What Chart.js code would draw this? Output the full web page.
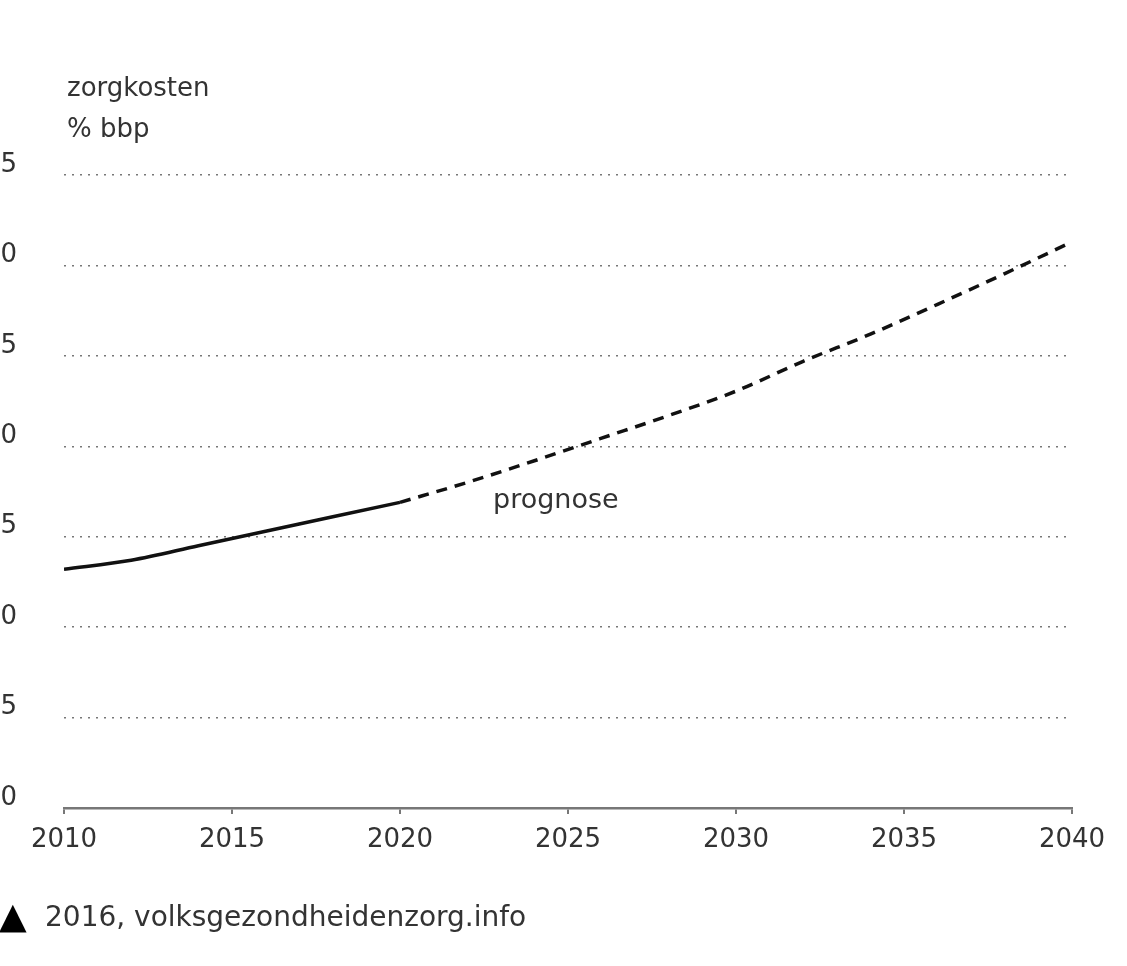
<!DOCTYPE html>
<html>
<head>
<meta charset="utf-8">
<script src="https://cdn.jsdelivr.net/npm/chart.js@4.4.1/dist/chart.umd.min.js"></script>
<style>
  body { margin: 0; background: #fff; overflow: hidden; }
  #wrap { position: relative; width: 1127px; height: 966px; overflow: hidden; font-family: 'DejaVu Sans', sans-serif; color: #333; }
  #chartBox { position: absolute; left: -20px; top: 0; width: 1147px; height: 966px; }
  .txt { position: absolute; font-size: 26px; white-space: nowrap; line-height: 30px; }
</style>
</head>
<body>
<div id="wrap">
  <div id="chartBox"><canvas id="grafico"></canvas></div>
  <div class="txt" style="left:67px; top:72px;">zorgkosten</div>
  <div class="txt" style="left:67px; top:113px;">% bbp</div>
  <div class="txt" style="left:493px; top:484px; font-size:27px;">prognose</div>
  <div class="txt" style="left:-1px; top:898px; font-size:36px; color:#000; line-height:36px;">▲</div>
  <div class="txt" style="left:45px; top:902px; font-size:28px;">2016, volksgezondheidenzorg.info</div>
</div>
<script>
// zorgkosten als % bbp, gemeten en prognose
const jarenGemeten = [2010, 2012, 2014, 2016, 2018, 2020];
const kostenGemeten = [13.2, 13.7, 14.5, 15.3, 16.1, 16.9];
const jarenPrognose = [2020, 2022, 2024, 2026, 2028, 2030, 2032, 2034, 2036, 2038, 2040];
const kostenPrognose = [16.9, 18.0, 19.2, 20.45, 21.7, 23.05, 24.7, 26.2, 27.85, 29.55, 31.3];
const yTicks = [0, 5, 10, 15, 20, 25, 30, 35];
const xTicks = [2010, 2015, 2020, 2025, 2030, 2035, 2040];

const toPoints = (xs, ys) => xs.map((x, i) => ({ x: x, y: ys[i] }));

const ctx = document.getElementById('grafico').getContext('2d');
new Chart(ctx, {
  type: 'line',
  data: {
    datasets: [
      {
        label: 'gemeten',
        data: toPoints(jarenGemeten, kostenGemeten),
        borderColor: '#111',
        borderWidth: 3.5,
        pointRadius: 0,
        cubicInterpolationMode: 'monotone',
        fill: false
      },
      {
        label: 'prognose',
        data: toPoints(jarenPrognose, kostenPrognose),
        borderColor: '#111',
        borderWidth: 3.5,
        borderDash: [11, 8],
        pointRadius: 0,
        cubicInterpolationMode: 'monotone',
        fill: false
      }
    ]
  },
  options: {
    responsive: true,
    maintainAspectRatio: false,
    animation: false,
    layout: { padding: { top: 175, right: 55, bottom: 0, left: 0 } },
    plugins: { legend: { display: false }, tooltip: { enabled: false } },
    scales: {
      x: {
        type: 'linear',
        min: 2010,
        max: 2040,
        afterBuildTicks: scale => { scale.ticks = xTicks.map(v => ({ value: v })); },
        afterFit: scale => { scale.height = 158; },
        ticks: {
          color: '#333',
          font: { family: 'DejaVu Sans', size: 26 },
          padding: 11,
          maxRotation: 0,
          callback: v => String(v)
        },
        grid: { drawOnChartArea: false, drawTicks: true, tickLength: 6, color: '#777', lineWidth: 2 },
        border: { display: true, color: '#777', width: 2.5 }
      },
      y: {
        min: 0,
        max: 35,
        afterBuildTicks: scale => { scale.ticks = yTicks.map(v => ({ value: v })); },
        afterFit: scale => { scale.width = 84; },
        ticks: {
          color: '#333',
          font: { family: 'DejaVu Sans', size: 26 },
          padding: 47,
          labelOffset: -10
        },
        grid: {
          drawTicks: false,
          color: c => (c.tick && c.tick.value === 0) ? 'rgba(0,0,0,0)' : '#777',
          lineWidth: 1.5
        },
        border: { display: false, dash: [2, 6] }
      }
    }
  }
});
</script>
</body>
</html>
